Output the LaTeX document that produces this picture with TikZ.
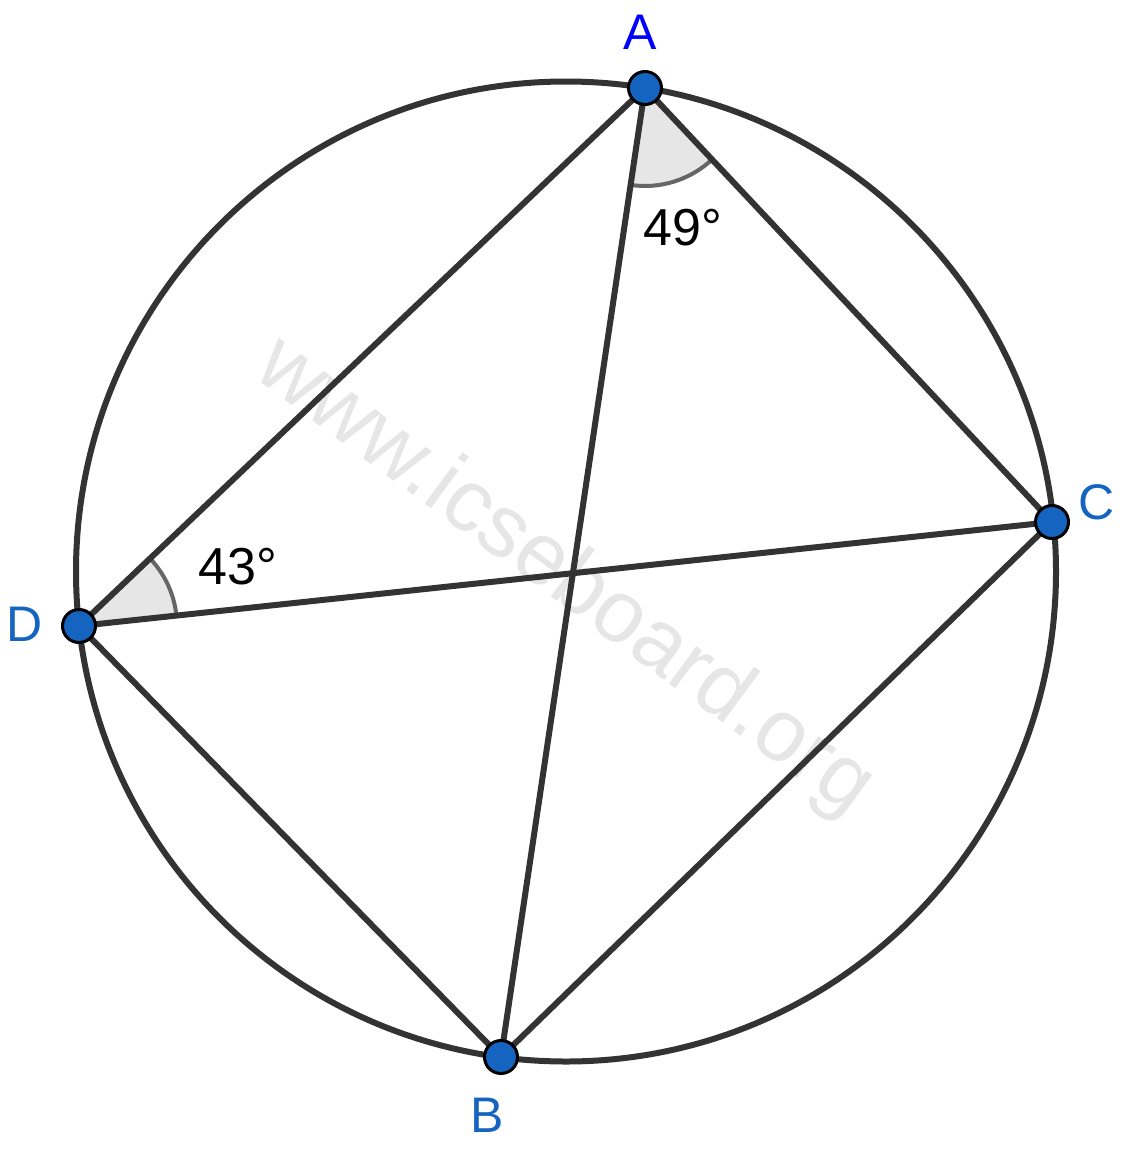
\documentclass[tikz,border=0pt]{standalone}
\usepackage{fontspec}
\setmainfont{Liberation Sans}
\usetikzlibrary{angles}
\definecolor{linegray}{HTML}{333333}
\definecolor{ptblue}{HTML}{1565C0}
\definecolor{abblue}{HTML}{0000FF}
\definecolor{wmgray}{HTML}{E6E6E6}
\definecolor{secfill}{HTML}{E6E6E6}
\definecolor{arcgray}{HTML}{666666}
\tikzset{
  seg/.style={draw=linegray, line width=6pt},
  dot/.style={circle, draw=black, line width=3pt, fill=ptblue, minimum size=33pt, inner sep=0pt},
  lbl/.style={text=ptblue, font=\fontsize{50}{50}\selectfont, inner sep=0pt},
  anglbl/.style={text=black, font=\fontsize{52}{52}\selectfont, inner sep=0pt},
  sector/.style={draw=arcgray, fill=secfill, line width=4pt, angle radius=98pt}
}
\begin{document}
\begin{tikzpicture}[x=1pt,y=-1pt]
\useasboundingbox (0,0) rectangle (1123,1151);
% watermark
\node[text=wmgray, font=\fontsize{88}{88}\selectfont, rotate=-36.4, inner sep=0pt] (wm) at (564,578) {www.icseboard.org};
% points
\coordinate (O) at (566,571.5);
\coordinate (A) at (645,88);
\coordinate (C) at (1052,522);
\coordinate (D) at (79,626);
\coordinate (B) at (501,1057);
% angle sectors
\pic[sector] {angle = B--A--C};
\pic[sector] {angle = C--D--A};
% circle
\draw[seg] (O) circle[radius=490];
% segments
\draw[seg] (A) -- (D);
\draw[seg] (A) -- (C);
\draw[seg] (A) -- (B);
\draw[seg] (D) -- (C);
\draw[seg] (D) -- (B);
\draw[seg] (B) -- (C);
% dots
\node[dot] (Ad) at (A) {};
\node[dot] (Cd) at (C) {};
\node[dot] (Dd) at (D) {};
\node[dot] (Bd) at (B) {};
% labels
\node[lbl, text=abblue] (la) at (640,32) {A};
\node[lbl] (lc) at (1097,502) {C};
\node[lbl] (ld) at (25,624) {D};
\node[lbl] (lb) at (487,1115) {B};
\node[anglbl] (l49) at (683,228) {49°};
\node[anglbl] (l43) at (238,567) {43°};
\end{tikzpicture}
\end{document}
